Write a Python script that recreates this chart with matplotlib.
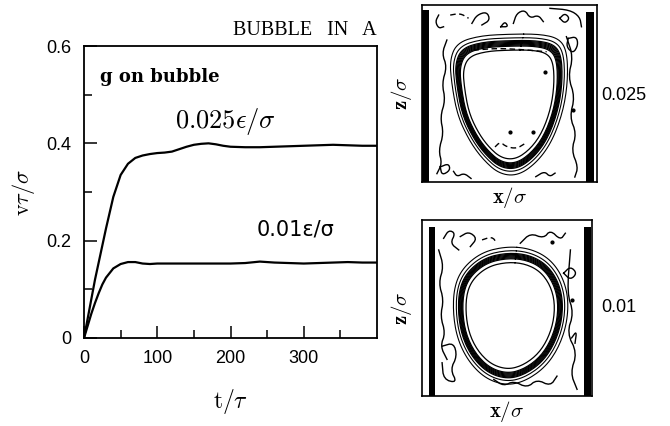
import numpy as np
import matplotlib
matplotlib.use("Agg")
import matplotlib.pyplot as plt
from matplotlib.ticker import FixedLocator

plt.rcParams['mathtext.fontset'] = 'cm'

# ── velocity of the bubble vs time ──────────────────────────
t_tau = [0, 5, 10, 15, 20, 25, 30, 40, 50, 60, 70, 80, 90, 100, 110, 120, 130,
         140, 150, 160, 170, 180, 190, 200, 220, 240, 260, 280, 300, 320, 340,
         360, 380, 400]
v_025 = [0, 0.04, 0.08, 0.12, 0.155, 0.19, 0.225, 0.29, 0.335, 0.358, 0.37,
         0.375, 0.378, 0.38, 0.381, 0.383, 0.388, 0.393, 0.397, 0.399, 0.400,
         0.398, 0.395, 0.393, 0.392, 0.392, 0.393, 0.394, 0.395, 0.396, 0.397,
         0.396, 0.395, 0.395]
v_001 = [0, 0.025, 0.05, 0.072, 0.092, 0.11, 0.124, 0.143, 0.152, 0.156,
         0.156, 0.153, 0.152, 0.153, 0.153, 0.153, 0.153, 0.153, 0.153, 0.153,
         0.153, 0.153, 0.153, 0.153, 0.154, 0.157, 0.155, 0.154, 0.153, 0.154,
         0.155, 0.156, 0.155, 0.155]

# ── bubble outline (centre line of the dense ring), box units 0..1 ──
ring_top_u = [0.503, 0.655, 0.750, 0.787, 0.791, 0.768, 0.712, 0.636, 0.541,
              0.446, 0.361, 0.294, 0.237, 0.209, 0.199, 0.237, 0.351]
ring_top_v = [0.787, 0.787, 0.764, 0.698, 0.557, 0.406, 0.255, 0.151, 0.085,
              0.094, 0.170, 0.264, 0.387, 0.538, 0.660, 0.745, 0.779]
centre_top = (0.49, 0.44)

ring_bot_u = [0.500, 0.618, 0.716, 0.784, 0.818, 0.810, 0.765, 0.696, 0.598,
              0.500, 0.392, 0.304, 0.245, 0.222, 0.229, 0.275, 0.373]
ring_bot_v = [0.802, 0.792, 0.745, 0.660, 0.547, 0.415, 0.292, 0.198, 0.132,
              0.109, 0.142, 0.226, 0.340, 0.472, 0.604, 0.698, 0.774]
centre_bot = (0.51, 0.46)

# contour levels drawn as scaled copies of the outline
ring_scales = [0.88, 0.945, 0.96, 0.975, 0.99, 1.005, 1.02, 1.035, 1.08, 1.14]
ring_widths = [0.9, 0.9, 0.9, 0.9, 0.9, 0.9, 0.9, 0.9, 0.8, 0.8]

# background density contours (u list, v list, dashed?)
noise_top = [
    ([.095, .076, .095, .123], [.943, .906, .868, .877], False),
    ([.161, .218, .266], [.943, .953, .925], True),
    ([.285, .313, .370, .389, .342], [.896, .943, .962, .915, .887], False),
    ([.450, .474, .493, .450], [.877, .906, .877, .877], False),
    ([.522, .541, .588, .617, .664, .693], [.896, .953, .972, .925, .943, .906], False),
    ([.787, .816, .844, .816, .787], [.925, .953, .925, .896, .925], False),
    ([.731, .844, .901, .911], [.981, .972, .934, .877], False),
    ([.142, .114, .142, .114, .133, .104, .123, .095, .114, .085],
     [.802, .726, .651, .557, .462, .368, .274, .179, .104, .047], False),
    ([.825, .863, .835, .873, .844, .882, .854, .892, .873],
     [.821, .708, .594, .481, .368, .274, .179, .085, .028], False),
    ([.835, .882, .892, .863, .825, .835], [.811, .821, .774, .726, .764, .811], False),
    ([.104, .152, .161, .114, .104], [.085, .104, .066, .038, .085], False),
    ([.417, .446, .484, .541, .588], [.198, .226, .198, .189, .217], True),
    ([.294, .427, .560, .712], [.745, .755, .749, .736], True),
    ([.180, .200, .240, .280], [.060, .030, .050, .020], False),
    ([.650, .700, .730, .760], [.030, .060, .030, .050], False),
]
dots_top_u = [.702, .503, .636, .863]
dots_top_v = [.623, .283, .283, .406]

noise_bot = [
    ([.127, .157, .196, .167, .216], [.896, .943, .925, .868, .830], False),
    ([.225, .275, .324, .284], [.906, .934, .896, .849], False),
    ([.353, .412, .441], [.887, .906, .868], True),
    ([.578, .637, .716, .755, .814, .843], [.868, .925, .896, .943, .887, .925], False),
    ([.833, .873, .912, .873, .833], [.698, .736, .698, .660, .698], False),
    ([.098, .127, .098, .127, .108, .137, .108, .147],
     [.830, .736, .642, .547, .453, .358, .283, .208], False),
    ([.118, .186, .206, .167, .206, .127, .118], [.283, .302, .226, .151, .075, .094, .189], False),
    ([.873, .853, .892, .853, .912, .873, .912], [.830, .585, .472, .358, .245, .132, .038], False),
    ([.422, .480, .539, .618, .676, .755, .794], [.094, .057, .085, .047, .094, .057, .113], False),
    ([.880, .910, .900], [.330, .370, .300], False),
]
dots_bot_u = [.765, .882]
dots_bot_v = [.877, .547]

# wall slabs: (u0, u1, v_top)
walls_top = [(0.0, 0.038, 0.972), (0.939, 0.981, 0.962)]
walls_bot = [(0.039, 0.078, 0.962), (0.951, 0.994, 0.962)]


def chaikin(x, y, closed=False, n=3):
    pts = np.column_stack([x, y]).astype(float)
    for _ in range(n):
        if closed:
            nxt = np.roll(pts, -1, axis=0)
            cur = pts
        else:
            nxt = pts[1:]
            cur = pts[:-1]
        q = 0.75 * cur + 0.25 * nxt
        r = 0.25 * cur + 0.75 * nxt
        new = np.empty((2 * len(q), 2))
        new[0::2] = q
        new[1::2] = r
        if not closed:
            new = np.vstack([pts[:1], new, pts[-1:]])
        pts = new
    if closed:
        pts = np.vstack([pts, pts[:1]])
    return pts[:, 0], pts[:, 1]


def draw_bubble(ax, ru, rv, centre, noise, du, dv, walls):
    cu, cv = centre
    su, sv = chaikin(ru, rv, closed=True)
    for s, lw in zip(ring_scales, ring_widths):
        ax.plot(cu + s * (su - cu), cv + s * (sv - cv), color='black', lw=lw)
    for u, v, dashed in noise:
        xs, ys = chaikin(u, v, n=2)
        ax.plot(xs, ys, color='black', lw=1.0, ls=(0, (4, 2.5)) if dashed else '-')
    ax.plot(du, dv, 'o', color='black', ms=2)
    for u0, u1, vt in walls:
        ax.fill_between([u0, u1], 0, vt, color='black', lw=0)
    ax.set_xlim(0, 1)
    ax.set_ylim(0, 1)
    ax.set_xticks([])
    ax.set_yticks([])
    for sp in ax.spines.values():
        sp.set_linewidth(1.2)


fig = plt.figure(figsize=(6.7, 4.26), dpi=100)

# ── left panel ──
ax = fig.add_axes([0.1254, 0.2066, 0.4373, 0.6854])
ax.plot(t_tau, v_025, color='black', lw=1.6)
ax.plot(t_tau, v_001, color='black', lw=1.6)
ax.set_xlim(0, 400)
ax.set_ylim(0, 0.6)
ax.xaxis.set_major_locator(FixedLocator([0, 100, 200, 300]))
ax.xaxis.set_minor_locator(FixedLocator([50, 150, 250, 350]))
ax.yaxis.set_major_locator(FixedLocator([0, 0.2, 0.4, 0.6]))
ax.yaxis.set_minor_locator(FixedLocator([0.1, 0.3, 0.5]))
ax.set_yticklabels(['0', '0.2', '0.4', '0.6'])
ax.tick_params(which='both', direction='in', labelsize=13, width=1.1,
               labelfontfamily='Liberation Sans')
ax.tick_params(which='major', length=9, pad=9)
ax.tick_params(which='minor', length=5.5)
for sp in ax.spines.values():
    sp.set_linewidth(1.3)
ax.set_xlabel(r'$\mathrm{t}/\tau$', fontsize=17, labelpad=14)
ax.set_ylabel(r'$\mathrm{v}\tau/\sigma$', fontsize=16, labelpad=7)

ax.text(1.0, 1.02, 'BUBBLE   IN   A', transform=ax.transAxes, ha='right',
        va='bottom', fontsize=14.5, family='Liberation Serif')
ax.text(0.055, 0.895, 'g on bubble', transform=ax.transAxes, fontsize=13,
        family='DejaVu Serif', fontweight='bold', va='center')
ax.text(0.31, 0.74, r'$0.025\epsilon/\sigma$', transform=ax.transAxes,
        fontsize=19, va='center')
ax.text(0.59, 0.37, '0.01ε/σ', transform=ax.transAxes, fontsize=15,
        family='DejaVu Sans', va='center')

# ── right panels ──
ax1 = fig.add_axes([0.6299, 0.5728, 0.2612, 0.4155])
draw_bubble(ax1, ring_top_u, ring_top_v, centre_top, noise_top,
            dots_top_u, dots_top_v, walls_top)
ax2 = fig.add_axes([0.6299, 0.0704, 0.2537, 0.4131])
draw_bubble(ax2, ring_bot_u, ring_bot_v, centre_bot, noise_bot,
            dots_bot_u, dots_bot_v, walls_bot)

for a in (ax1, ax2):
    a.set_xlabel(r'$\mathbf{x}/\sigma$', fontsize=15, labelpad=2)
    a.set_ylabel(r'$\mathbf{z}/\sigma$', fontsize=15, labelpad=6)
fig.text(601 / 670, 1 - 96 / 426, '0.025', fontsize=13, family='Liberation Sans',
         va='center')
fig.text(601 / 670, 1 - 307 / 426, '0.01', fontsize=13, family='Liberation Sans',
         va='center')

fig.savefig('out.png', dpi=100)
